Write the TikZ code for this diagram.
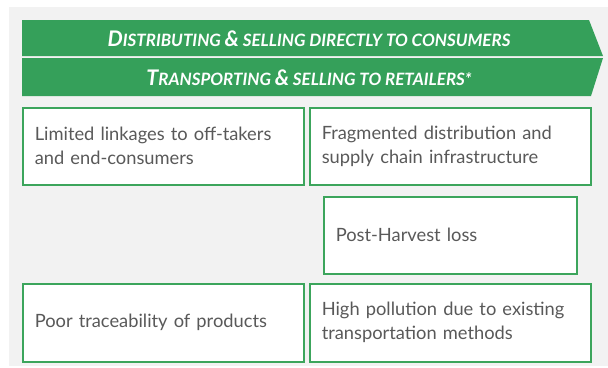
\documentclass[tikz,border=0pt]{standalone}
\usepackage{fontspec}
\setmainfont{Lato}
\definecolor{bggray}{HTML}{F2F2F2}
\definecolor{bandgreen}{HTML}{35A05A}
\definecolor{boxgreen}{HTML}{3CA55C}
\definecolor{txtgray}{HTML}{595959}
\newcommand{\mybigcap}[1]{{\fontsize{21.5}{21.5}\selectfont #1}}
\begin{document}
\begin{tikzpicture}[x=1pt,y=-1pt,
  issue/.style={draw=boxgreen,line width=1.5pt,fill=white,anchor=north west,
    inner xsep=12pt,inner ysep=0pt,align=left,text=txtgray,
    font=\fontsize{18.3}{24}\selectfont},
  bandtext/.style={text=white,font=\fontsize{17}{17}\selectfont\bfseries\itshape,inner sep=0pt}]
\useasboundingbox (0,0) rectangle (608,367);
\fill[bggray] (9,7) rectangle (608,366);
% banners
\fill[bandgreen] (22,20) -- (589,20) -- (603,56) -- (22,56) -- cycle;
\fill[bandgreen] (22,58) -- (603,58) -- (591,96) -- (22,96) -- cycle;
\node[bandtext] (b1) at (309,39) {\mybigcap{D}ISTRIBUTING \mybigcap{\&} SELLING DIRECTLY TO CONSUMERS};
\node[bandtext] (b2) at (309,78) {\mybigcap{T}RANSPORTING \mybigcap{\&} SELLING TO RETAILERS*};
% boxes
\node[issue,text width=257pt,minimum height=77pt] (a) at (22,107) {Limited linkages to off-takers\\and end-consumers};
\node[issue,text width=257pt,minimum height=77pt] (b) at (309,107) {Fragmented distribution and\\supply chain infrastructure};
\node[issue,text width=229pt,minimum height=77pt] (c) at (323,196) {Post-Harvest loss};
\node[issue,text width=257pt,minimum height=78pt] (d) at (22,283) {Poor traceability of products};
\node[issue,text width=257pt,minimum height=78pt] (e) at (309,283) {High pollution due to existing\\transportation methods};
\end{tikzpicture}
\end{document}
